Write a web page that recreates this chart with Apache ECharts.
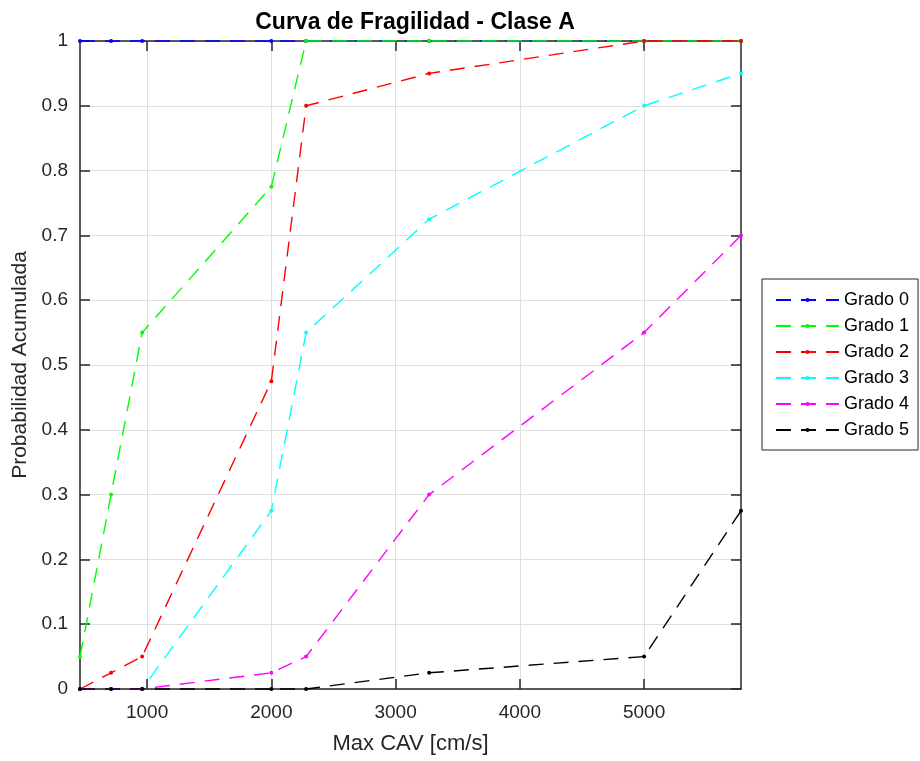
<!DOCTYPE html>
<html>
<head>
<meta charset="utf-8">
<script src="https://cdn.jsdelivr.net/npm/echarts@6/dist/echarts.min.js"></script>
<style>
  html, body { margin: 0; padding: 0; background: #fff; }
  #chart { width: 920px; height: 761px; }
</style>
</head>
<body>
<div id="chart"></div>
<script>
// Max CAV sample points [cm/s]
const cav = [460, 710, 960, 2000, 2280, 3270, 5000, 5780];

// Cumulative probability per damage grade
const grado0 = [1, 1, 1, 1, 1, 1, 1, 1];
const grado1 = [0.05, 0.3, 0.55, 0.775, 1, 1, 1, 1];
const grado2 = [0, 0.025, 0.05, 0.475, 0.9, 0.95, 1, 1];
const grado3 = [0, 0, 0, 0.275, 0.55, 0.725, 0.9, 0.95];
const grado4 = [0, 0, 0, 0.025, 0.05, 0.3, 0.55, 0.7];
const grado5 = [0, 0, 0, 0, 0, 0.025, 0.05, 0.275];

const seriesNames = ['Grado 0', 'Grado 1', 'Grado 2', 'Grado 3', 'Grado 4', 'Grado 5'];
const seriesValues = [grado0, grado1, grado2, grado3, grado4, grado5];
const seriesColors = ['#0000ff', '#00ff00', '#ff0000', '#00ffff', '#ff00ff', '#000000'];

const xTicks = [1000, 2000, 3000, 4000, 5000];
const xMin = 460, xMax = 5780;

const axisColor = '#262626';
const font = 'Liberation Sans, Arial, Helvetica, sans-serif';

const chart = echarts.init(document.getElementById('chart'), null, { renderer: 'canvas' });

const gridLine = { show: true, lineStyle: { color: '#dfdfdf', width: 1 } };

const option = {
  animation: false,
  backgroundColor: '#ffffff',
  title: {
    text: 'Curva de Fragilidad - Clase A',
    left: 410,
    textAlign: 'center',
    top: 6,
    textStyle: { fontFamily: font, fontSize: 23, fontWeight: 'bold', color: '#000' }
  },
  legend: {
    orient: 'vertical',
    left: 762,
    top: 279,
    padding: [12, 9, 11, 13],
    itemWidth: 63,
    itemHeight: 5,
    itemGap: 8,
    backgroundColor: '#ffffff',
    borderColor: '#262626',
    borderWidth: 1,
    textStyle: { fontFamily: font, fontSize: 18, color: '#000' },
    data: seriesNames
  },
  grid: { left: 80, right: 179, top: 41, bottom: 72, containLabel: false, outerBoundsMode: 'none' },
  xAxis: [
    {
      type: 'value',
      min: xMin,
      max: xMax,
      name: 'Max CAV [cm/s]',
      nameLocation: 'middle',
      nameGap: 44,
      nameTextStyle: { fontFamily: font, fontSize: 22, color: axisColor },
      axisLine: { show: true, onZero: false, lineStyle: { color: axisColor, width: 1.5 } },
      axisTick: { show: true, inside: true, length: 10, customValues: xTicks, lineStyle: { color: axisColor, width: 1.5 } },
      axisLabel: {
        customValues: xTicks, fontFamily: font, fontSize: 19, color: axisColor, margin: 14,
        formatter: v => String(v)
      },
      splitLine: gridLine
    },
    {
      type: 'value',
      position: 'top',
      min: xMin,
      max: xMax,
      axisLine: { show: true, onZero: false, lineStyle: { color: axisColor, width: 1.5 } },
      axisTick: { show: true, inside: true, length: 10, customValues: xTicks, lineStyle: { color: axisColor, width: 1.5 } },
      axisLabel: { show: false },
      splitLine: { show: false }
    }
  ],
  yAxis: [
    {
      type: 'value',
      min: 0,
      max: 1,
      interval: 0.1,
      name: 'Probabilidad Acumulada',
      nameLocation: 'middle',
      nameGap: 48,
      nameTextStyle: { fontFamily: font, fontSize: 21, color: axisColor },
      axisLine: { show: true, onZero: false, lineStyle: { color: axisColor, width: 1.5 } },
      axisTick: { show: true, inside: true, length: 10, lineStyle: { color: axisColor, width: 1.5 } },
      axisLabel: {
        fontFamily: font, fontSize: 19, color: axisColor, margin: 12,
        formatter: v => String(Math.round(v * 10) / 10)
      },
      splitLine: gridLine
    },
    {
      type: 'value',
      position: 'right',
      min: 0,
      max: 1,
      interval: 0.1,
      axisLine: { show: true, onZero: false, lineStyle: { color: axisColor, width: 1.5 } },
      axisTick: { show: true, inside: true, length: 10, lineStyle: { color: axisColor, width: 1.5 } },
      axisLabel: { show: false },
      splitLine: { show: false }
    }
  ],
  series: seriesNames.map((name, i) => ({
    name: name,
    type: 'line',
    xAxisIndex: 0,
    yAxisIndex: 0,
    data: cav.map((x, j) => [x, seriesValues[i][j]]),
    clip: false,
    symbol: 'circle',
    symbolSize: 4,
    showSymbol: true,
    itemStyle: { color: seriesColors[i] },
    lineStyle: { color: seriesColors[i], width: 1.4, type: [15, 10] },
    emphasis: { disabled: true }
  }))
};

chart.setOption(option);
</script>
</body>
</html>
